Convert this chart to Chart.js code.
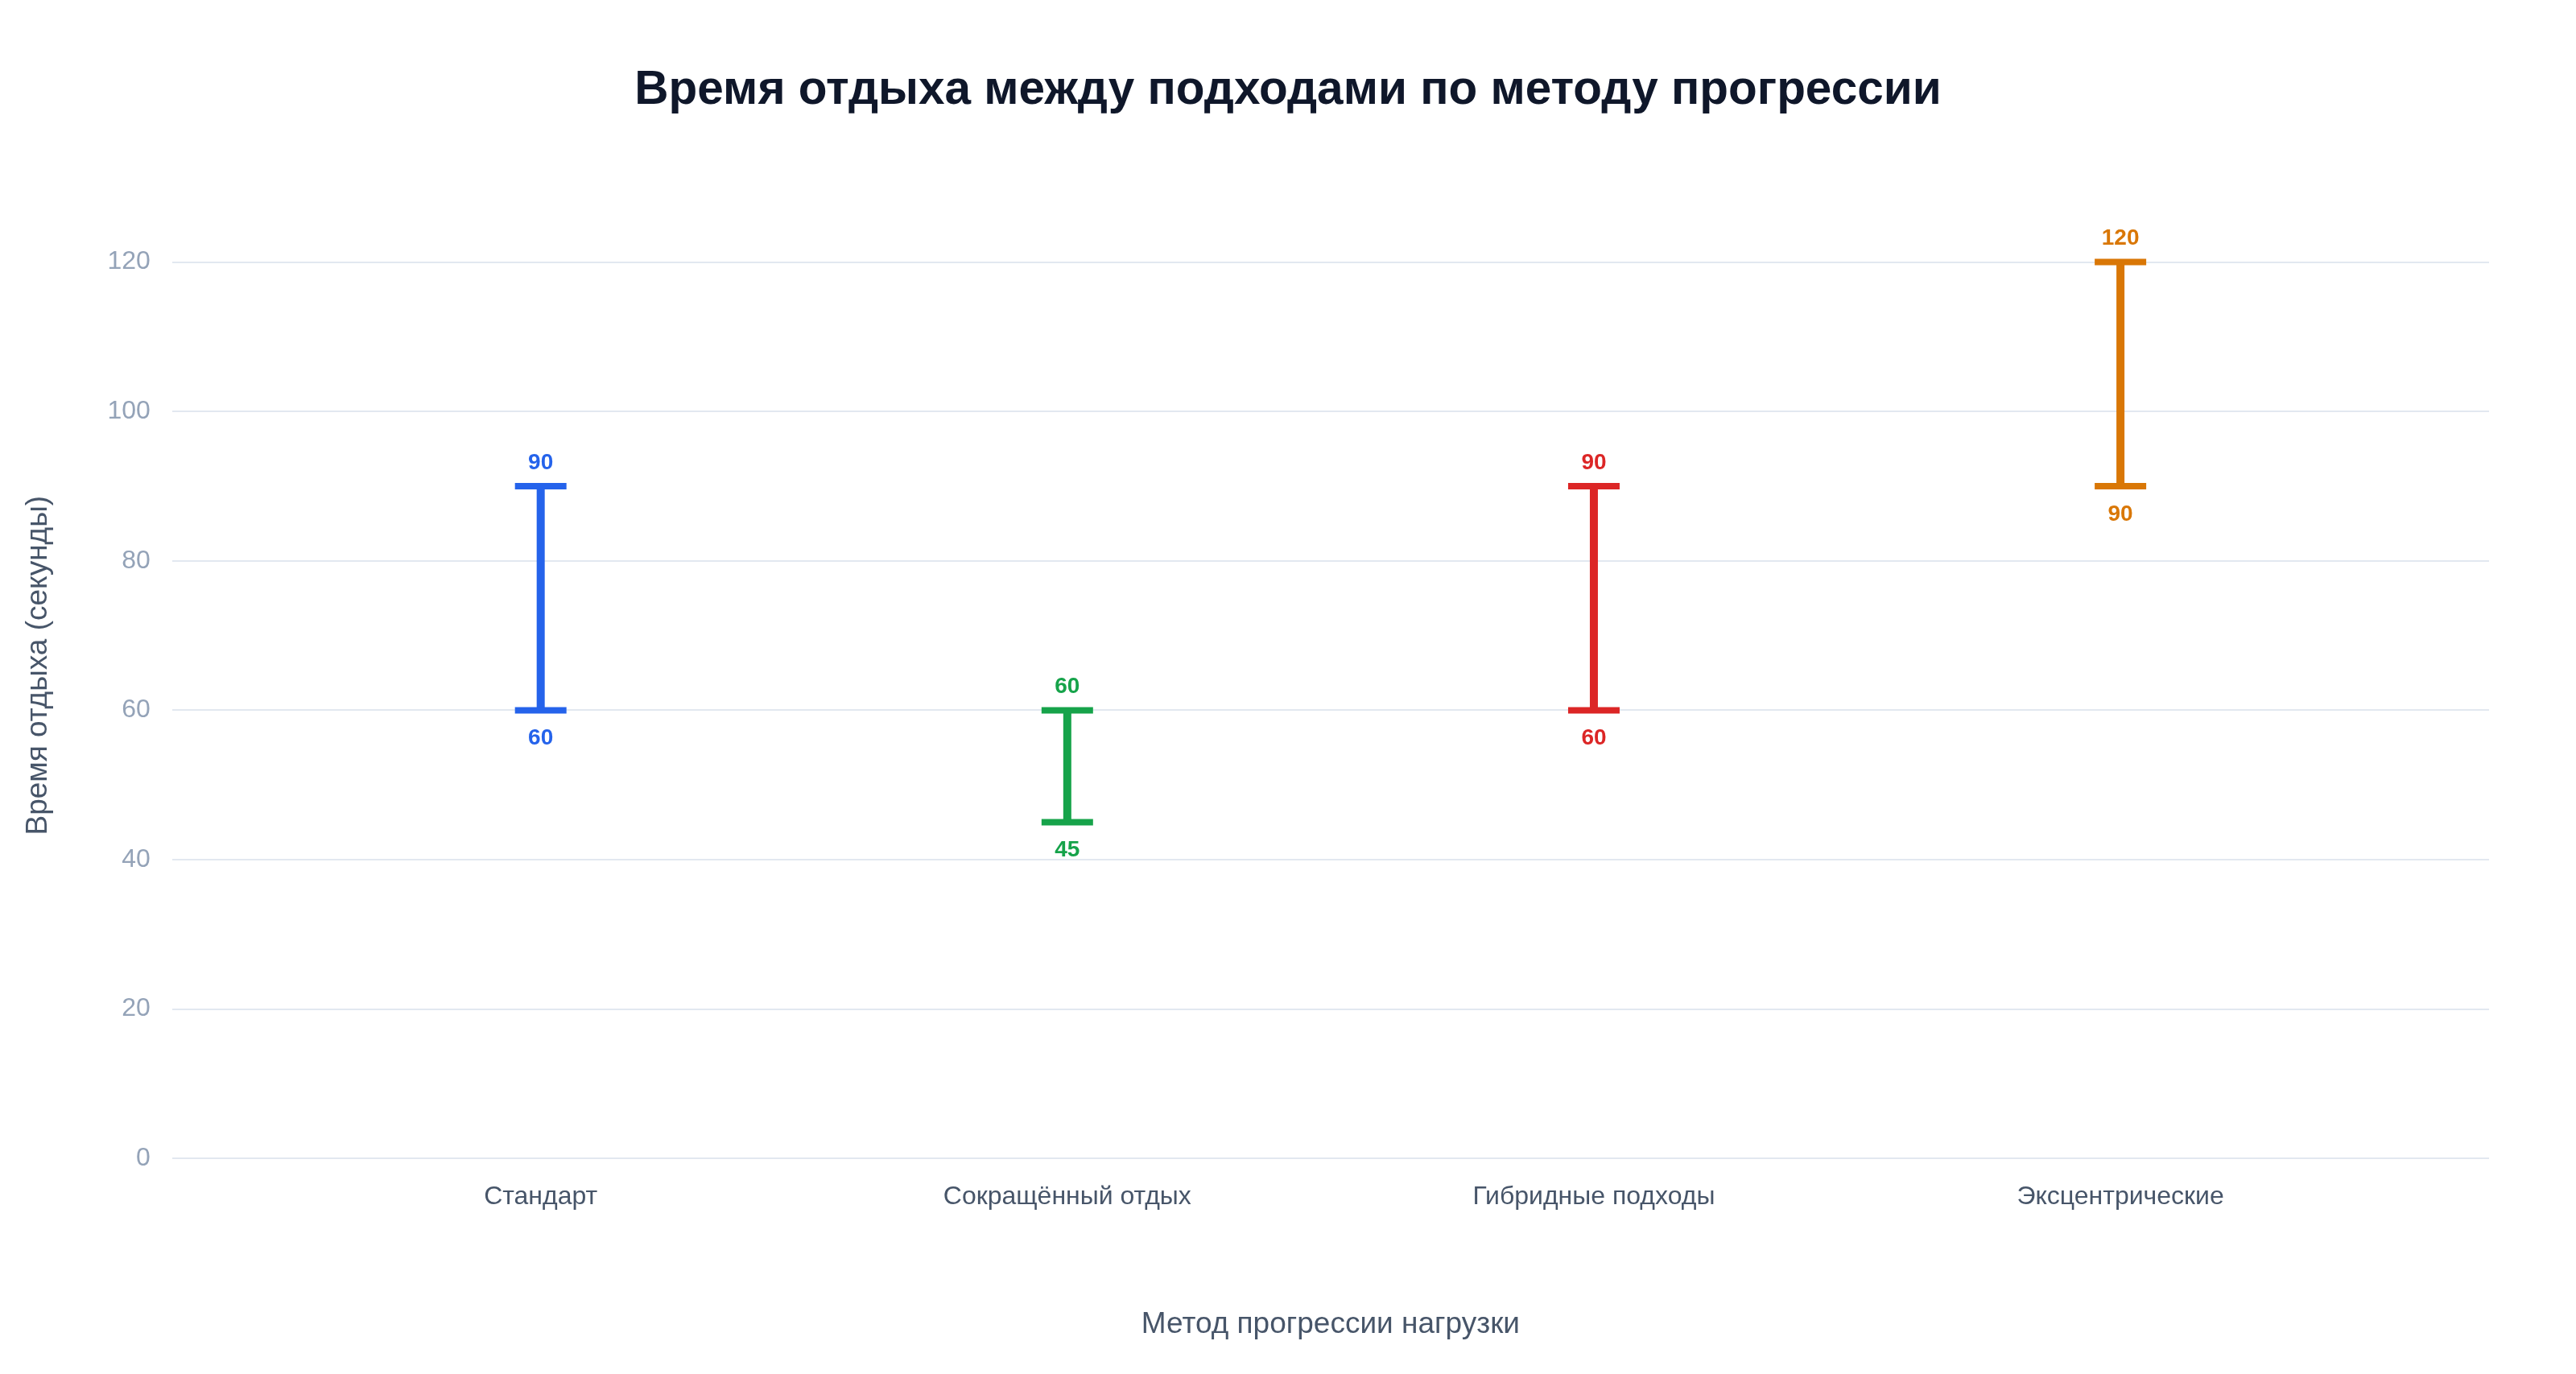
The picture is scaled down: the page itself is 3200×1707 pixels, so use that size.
<!DOCTYPE html>
<html lang="ru">
<head>
<meta charset="utf-8">
<title>Время отдыха между подходами</title>
<script src="https://cdn.jsdelivr.net/npm/chart.js@4.4.1/dist/chart.umd.min.js"></script>
<style>
    html, body { margin: 0; padding: 0; background: #ffffff; }
    #wrap { width: 3200px; height: 1707px; position: relative; }
</style>
</head>
<body>
<div id="wrap"><canvas id="restChart"></canvas></div>
<script>
const categories = ['Стандарт', 'Сокращённый отдых', 'Гибридные подходы', 'Эксцентрические'];
const restMin = [60, 45, 60, 90];
const restMax = [90, 60, 90, 120];
const seriesColors = ['#2563eb', '#16a34a', '#dc2626', '#d97706'];
const yTickValues = [0, 20, 40, 60, 80, 100, 120];

const FONT = '"Liberation Sans", Arial, Helvetica, sans-serif';

// one dataset per category: a vertical segment from min to max with caps
const datasets = categories.map((cat, i) => ({
    label: cat,
    data: [{ x: i, y: restMin[i] }, { x: i, y: restMax[i] }],
    borderColor: seriesColors[i],
    borderWidth: 10,
    borderCapStyle: 'butt',
    pointStyle: 'line',
    pointRadius: 32,
    pointHoverRadius: 32,
    pointBorderWidth: 8,
    pointBorderColor: seriesColors[i],
    pointBackgroundColor: seriesColors[i],
    fill: false,
    tension: 0
}));

const rangeLabels = {
    id: 'rangeLabels',
    afterDatasetsDraw(chart) {
        const { ctx, scales: { x, y } } = chart;
        ctx.save();
        ctx.font = 'bold 28px ' + FONT;
        ctx.textAlign = 'center';
        ctx.textBaseline = 'middle';
        categories.forEach((cat, i) => {
            const px = x.getPixelForValue(i);
            ctx.fillStyle = seriesColors[i];
            ctx.fillText(String(restMax[i]), px, y.getPixelForValue(restMax[i]) - 29);
            ctx.fillText(String(restMin[i]), px, y.getPixelForValue(restMin[i]) + 35);
        });
        ctx.restore();
    }
};

new Chart(document.getElementById('restChart'), {
    type: 'line',
    data: { datasets: datasets },
    options: {
        responsive: true,
        maintainAspectRatio: false,
        animation: false,
        devicePixelRatio: 1,
        layout: { padding: { top: 40, right: 0, bottom: 39, left: 0 } },
        plugins: {
            legend: { display: false },
            tooltip: { enabled: false },
            title: {
                display: true,
                text: 'Время отдыха между подходами по методу прогрессии',
                color: '#0f172a',
                font: { family: FONT, size: 58.5, weight: 'bold', lineHeight: 1.2 },
                padding: { top: 38, bottom: 66 }
            }
        },
        scales: {
            x: {
                type: 'linear',
                min: -0.7,
                max: 3.7,
                afterBuildTicks: (scale) => {
                    scale.ticks = categories.map((c, i) => ({ value: i }));
                },
                grid: { display: false, drawTicks: false },
                border: { display: false },
                ticks: {
                    color: '#475569',
                    font: { family: FONT, size: 32 },
                    padding: 29,
                    maxRotation: 0,
                    autoSkip: false,
                    callback: (v) => categories[v]
                },
                title: {
                    display: true,
                    text: 'Метод прогрессии нагрузки',
                    color: '#475569',
                    font: { family: FONT, size: 37, lineHeight: 1.2 },
                    padding: { top: 88, bottom: 0 }
                }
            },
            y: {
                min: 0,
                max: 132,
                afterBuildTicks: (scale) => {
                    scale.ticks = yTickValues.map(v => ({ value: v }));
                },
                grid: { color: '#e2e8f0', lineWidth: 2, drawTicks: false },
                border: { display: false },
                ticks: {
                    color: '#94a3b8',
                    font: { family: FONT, size: 32 },
                    padding: 27
                },
                title: {
                    display: true,
                    text: 'Время отдыха (секунды)',
                    color: '#475569',
                    font: { family: FONT, size: 37, lineHeight: 1.2 },
                    padding: { top: 26, bottom: 36 }
                }
            },
            // empty right axis, only reserves the margin on the right
            yRight: {
                position: 'right',
                display: true,
                min: 0,
                max: 132,
                grid: { display: false, drawTicks: false },
                border: { display: false },
                ticks: { display: false },
                afterFit: (scale) => { scale.width = 108; }
            }
        }
    },
    plugins: [rangeLabels]
});
</script>
</body>
</html>
